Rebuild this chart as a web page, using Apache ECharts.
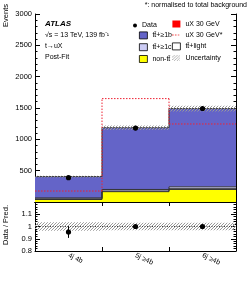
<!DOCTYPE html>
<html><head><meta charset="utf-8">
<script src="https://cdn.jsdelivr.net/npm/echarts@6/dist/echarts.min.js"></script>
<style>html,body{margin:0;padding:0;background:#fff}#c{width:249px;height:281px}</style>
</head><body><div id="c"></div>
<script>
// ---- data ----
const categories = ['4j 4b', '5j \u22654b', '6j \u22654b'];
const nonTT   = [40, 165, 200];
const ttLight = [10, 10, 12];
const ttC     = [15, 25, 30];
const ttB     = [340, 985, 1248];
const uX      = [0, 0, 0];
const uXNorm  = [175, 1650, 1245];
const dataVals = [388, 1180, 1492];
const dataErr  = [20, 34, 39];
const uncRel   = [0.035, 0.03, 0.03];
const ratioVals = [0.955, 1.0, 1.0];
const ratioErr  = [0.048, 0.02, 0.018];
const mainYTicks  = [500, 1000, 1500, 2000, 2500, 3000];
const ratioYTicks = [0.8, 0.9, 1, 1.1];

const TTBAR = 't\u0074\u0304';
const names = {
  ttB: TTBAR + '+\u22651b', ttC: TTBAR + '+\u22651c', ttL: TTBAR + '+light', non: 'non-' + TTBAR
};

const FONT = 'Liberation Sans, Arial, Helvetica, sans-serif';

function makeHatch(w, h) {
  const cv = document.createElement('canvas');
  cv.width = w; cv.height = h;
  const g = cv.getContext('2d');
  g.strokeStyle = '#9a9a9a'; g.lineWidth = 0.8;
  for (let k = -h; k < w + h; k += 3) {
    g.beginPath(); g.moveTo(k, h); g.lineTo(k + h, 0); g.stroke();
  }
  return cv;
}
const hatchTile = (function(){
  const cv = document.createElement('canvas');
  cv.width = 3; cv.height = 3;
  const g = cv.getContext('2d');
  g.fillStyle = '#9a9a9a';
  g.fillRect(0,2,1,1); g.fillRect(1,1,1,1); g.fillRect(2,0,1,1);
  return cv;
})();
const hatchPattern = { image: hatchTile, repeat: 'repeat' };
const hatchIcon = 'image://' + makeHatch(9, 7).toDataURL();
const dashIcon = (function(){
  const cv = document.createElement('canvas'); cv.width = 9; cv.height = 7;
  const g = cv.getContext('2d'); g.strokeStyle = '#ee2222'; g.lineWidth = 1;
  g.setLineDash([1.5, 1.5]); g.beginPath(); g.moveTo(0, 3.5); g.lineTo(9, 3.5); g.stroke();
  return 'image://' + cv.toDataURL();
})();

const layers = [
  { name: names.non, vals: nonTT, color: '#ffff00' },
  { name: names.ttL, vals: ttLight, color: '#ffffff' },
  { name: names.ttC, vals: ttC, color: '#ccccf5' },
  { name: names.ttB, vals: ttB, color: '#6464c8' },
  { name: 'uX 30 GeV', vals: uX, color: '#ff0000' }
];
let base = categories.map(() => 0);
const series = [];
layers.forEach(L => {
  const tops = L.vals.map((v, i) => base[i] + v);
  const d = L.vals.map((v, i) => [i, base[i], tops[i], i > 0 ? tops[i - 1] : tops[i]]);
  base = tops;
  series.push({
    type: 'custom', name: L.name, xAxisIndex: 0, yAxisIndex: 0, z: 2,
    itemStyle: { color: L.color, borderColor: '#000', borderWidth: 0.8 },
    data: d,
    renderItem: (params, api) => {
      const i = api.value(0), lo = api.value(1), hi = api.value(2);
      if (hi - lo <= 0) return null;
      const p0 = api.coord([i, lo]), p1 = api.coord([i, hi]);
      const w = api.size([1, 0])[0];
      const ls = { stroke: '#333', lineWidth: 1 };
      const ch = [
        { type: 'rect', shape: { x: p0[0] - w / 2, y: p1[1], width: w, height: p0[1] - p1[1] }, style: { fill: L.color } },
        { type: 'line', z2: 10, shape: { x1: p0[0] - w / 2, y1: p1[1], x2: p0[0] + w / 2, y2: p1[1] }, style: ls }
      ];
      if (i > 0) {
        const pp = api.coord([i, api.value(3)]);
        ch.push({ type: 'line', z2: 10, shape: { x1: p0[0] - w / 2, y1: pp[1], x2: p0[0] - w / 2, y2: p1[1] }, style: ls });
      }
      return { type: 'group', children: ch };
    }
  });
});
const total = base;

series.push({
  type: 'custom', name: 'Uncertainty', xAxisIndex: 0, yAxisIndex: 0, z: 3,
  itemStyle: { color: '#9a9a9a' },
  data: total.map((t, i) => [i, t * (1 - uncRel[i]), t * (1 + uncRel[i])]),
  renderItem: (params, api) => {
    const i = api.value(0);
    const p0 = api.coord([i, api.value(1)]), p1 = api.coord([i, api.value(2)]);
    const w = api.size([1, 0])[0];
    return { type: 'rect', shape: { x: p0[0] - w / 2, y: p1[1], width: w, height: p0[1] - p1[1] },
      style: { fill: hatchPattern, stroke: null } };
  }
});

series.push({
  type: 'custom', name: 'uX 30 GeV*', xAxisIndex: 0, yAxisIndex: 0, z: 4,
  itemStyle: { color: '#ee2222' },
  data: uXNorm.map((v, i) => [i, v, i > 0 ? uXNorm[i - 1] : v]),
  renderItem: (params, api) => {
    const i = api.value(0);
    const c = api.coord([i, api.value(1)]);
    const w = api.size([1, 0])[0];
    const st = { stroke: '#ee2233', lineWidth: 1, lineDash: [1.5, 1.5] };
    const ch = [{ type: 'line', shape: { x1: c[0] - w / 2, y1: c[1], x2: c[0] + w / 2, y2: c[1] }, style: st }];
    if (i > 0) {
      const p = api.coord([i, api.value(2)]);
      ch.push({ type: 'line', shape: { x1: c[0] - w / 2, y1: p[1], x2: c[0] - w / 2, y2: c[1] }, style: st });
    }
    return { type: 'group', children: ch };
  }
});

function pointRender(params, api) {
  const i = api.value(0), v = api.value(1), e = api.value(2);
  const c = api.coord([i, v]), lo = api.coord([i, v - e]), hi = api.coord([i, v + e]);
  return { type: 'group', children: [
    { type: 'line', shape: { x1: c[0], y1: hi[1], x2: c[0], y2: lo[1] }, style: { stroke: '#000', lineWidth: 1 } },
    { type: 'circle', shape: { cx: c[0], cy: c[1], r: 2.6 }, style: { fill: '#000' } }
  ] };
}
series.push({
  type: 'custom', name: 'Data', xAxisIndex: 0, yAxisIndex: 0, z: 5,
  itemStyle: { color: '#000' },
  data: dataVals.map((v, i) => [i, v, dataErr[i]]),
  renderItem: pointRender
});

series.push({
  type: 'custom', name: 'Uncertainty', xAxisIndex: 2, yAxisIndex: 2, z: 3,
  itemStyle: { color: '#9a9a9a' },
  data: uncRel.map((u, i) => [i, 1 - u, 1 + u]),
  renderItem: (params, api) => {
    const i = api.value(0);
    const p0 = api.coord([i, api.value(1)]), p1 = api.coord([i, api.value(2)]);
    const m = api.coord([i, 1]);
    const w = api.size([1, 0])[0];
    return { type: 'group', children: [
      { type: 'rect', shape: { x: p0[0] - w / 2, y: p1[1], width: w, height: p0[1] - p1[1] }, style: { fill: hatchPattern, stroke: null } },
      { type: 'line', shape: { x1: m[0] - w / 2, y1: m[1], x2: m[0] + w / 2, y2: m[1] }, style: { stroke: '#444', lineWidth: 1, lineDash: [1, 1.5] } }
    ] };
  }
});
series.push({
  type: 'custom', name: 'Data', xAxisIndex: 2, yAxisIndex: 2, z: 5,
  itemStyle: { color: '#000' },
  data: ratioVals.map((v, i) => [i, v, ratioErr[i]]),
  renderItem: pointRender
});

const axLine = { show: true, lineStyle: { color: '#000', width: 1 } };
function xAx(grid, pos, labels) {
  return { type: 'category', gridIndex: grid, position: pos, data: categories, boundaryGap: true,
    axisLine: axLine, axisTick: { show: true, inside: true, length: 4, lineStyle: { color: '#000' } },
    axisLabel: labels ? { show: true, rotate: -25, fontSize: 7, fontFamily: FONT, color: '#000', margin: 4 } : { show: false },
    splitLine: { show: false } };
}
function yAx(grid, pos, min, max, interval, ticks, labels) {
  return { type: 'value', gridIndex: grid, position: pos, min, max, interval,
    axisLine: axLine,
    axisTick: { show: true, inside: true, length: 5, lineStyle: { color: '#000' } },
    minorTick: { show: true, splitNumber: 5, length: 2.5, lineStyle: { color: '#000' } },
    axisLabel: labels ? { show: true, fontSize: 7.5, fontFamily: FONT, color: '#000', margin: 3,
      formatter: v => ticks.some(t => Math.abs(t - v) < 1e-6) ? String(+v.toFixed(2)) : '' } : { show: false },
    splitLine: { show: false } };
}

const legText = { fontSize: 7, fontFamily: FONT, color: '#000', lineHeight: 7 };
const option = {
  animation: false,
  backgroundColor: '#fff',
  grid: [
    { left: 35, width: 201, top: 14, height: 188 },
    { left: 35, width: 201, top: 202, height: 49 }
  ],
  xAxis: [xAx(0, 'bottom', false), xAx(0, 'top', false), xAx(1, 'bottom', true), xAx(1, 'top', false)],
  yAxis: [
    yAx(0, 'left', 0, 3000, 500, mainYTicks, true), yAx(0, 'right', 0, 3000, 500, mainYTicks, false),
    yAx(1, 'left', 0.8, 1.2, 0.1, ratioYTicks, true), yAx(1, 'right', 0.8, 1.2, 0.1, ratioYTicks, false)
  ],
  legend: [
    { orient: 'vertical', left: 133, top: 22, padding: 0, itemGap: 4, itemWidth: 4, itemHeight: 4, selectedMode: false,
      textStyle: legText, data: [{ name: 'Data', icon: 'circle' }] },
    { orient: 'vertical', left: 139, top: 31.5, padding: 0, itemGap: 4, itemWidth: 8, itemHeight: 7, selectedMode: false,
      textStyle: legText,
      data: [names.ttB, names.ttC, names.non].map(n => ({ name: n, icon: 'rect', itemStyle: { borderColor: '#000', borderWidth: 0.8 } })) },
    { orient: 'vertical', left: 172, top: 20.5, padding: 0, itemGap: 4, itemWidth: 8, itemHeight: 7, selectedMode: false,
      textStyle: legText,
      data: [
        { name: 'uX 30 GeV', icon: 'rect', itemStyle: { borderWidth: 0 } },
        { name: 'uX 30 GeV*', icon: dashIcon },
        { name: names.ttL, icon: 'rect', itemStyle: { color: '#fff', borderColor: '#000', borderWidth: 0.8 } },
        { name: 'Uncertainty', icon: hatchIcon }
      ] }
  ],
  graphic: [
    { type: 'text', x: 247, y: 5, style: { text: '*: normalised to total background', font: '7px ' + FONT, fill: '#000', textAlign: 'right', textVerticalAlign: 'middle' } },
    { type: 'text', x: 45, y: 24, style: { text: 'ATLAS', font: 'italic bold 8px ' + FONT, fill: '#000', textAlign: 'left', textVerticalAlign: 'middle' } },
    { type: 'text', x: 45, y: 35, style: { text: '\u221As = 13 TeV, 139 fb\u207B\u00B9', font: '7px ' + FONT, fill: '#000', textAlign: 'left', textVerticalAlign: 'middle' } },
    { type: 'text', x: 45, y: 46, style: { text: 't\u2192uX', font: '7px ' + FONT, fill: '#000', textAlign: 'left', textVerticalAlign: 'middle' } },
    { type: 'text', x: 45, y: 57, style: { text: 'Post-Fit', font: '7px ' + FONT, fill: '#000', textAlign: 'left', textVerticalAlign: 'middle' } },
    { type: 'text', x: 6, y: 4, rotation: Math.PI / 2, style: { text: 'Events', font: '7.5px ' + FONT, fill: '#000', textAlign: 'right', textVerticalAlign: 'middle' } },
    { type: 'text', x: 6, y: 225, rotation: Math.PI / 2, style: { text: 'Data / Pred.', font: '7.5px ' + FONT, fill: '#000', textAlign: 'center', textVerticalAlign: 'middle' } }
  ],
  series
};
const chart = echarts.init(document.getElementById('c'), null, { renderer: 'canvas' });
chart.setOption(option);
</script></body></html>
